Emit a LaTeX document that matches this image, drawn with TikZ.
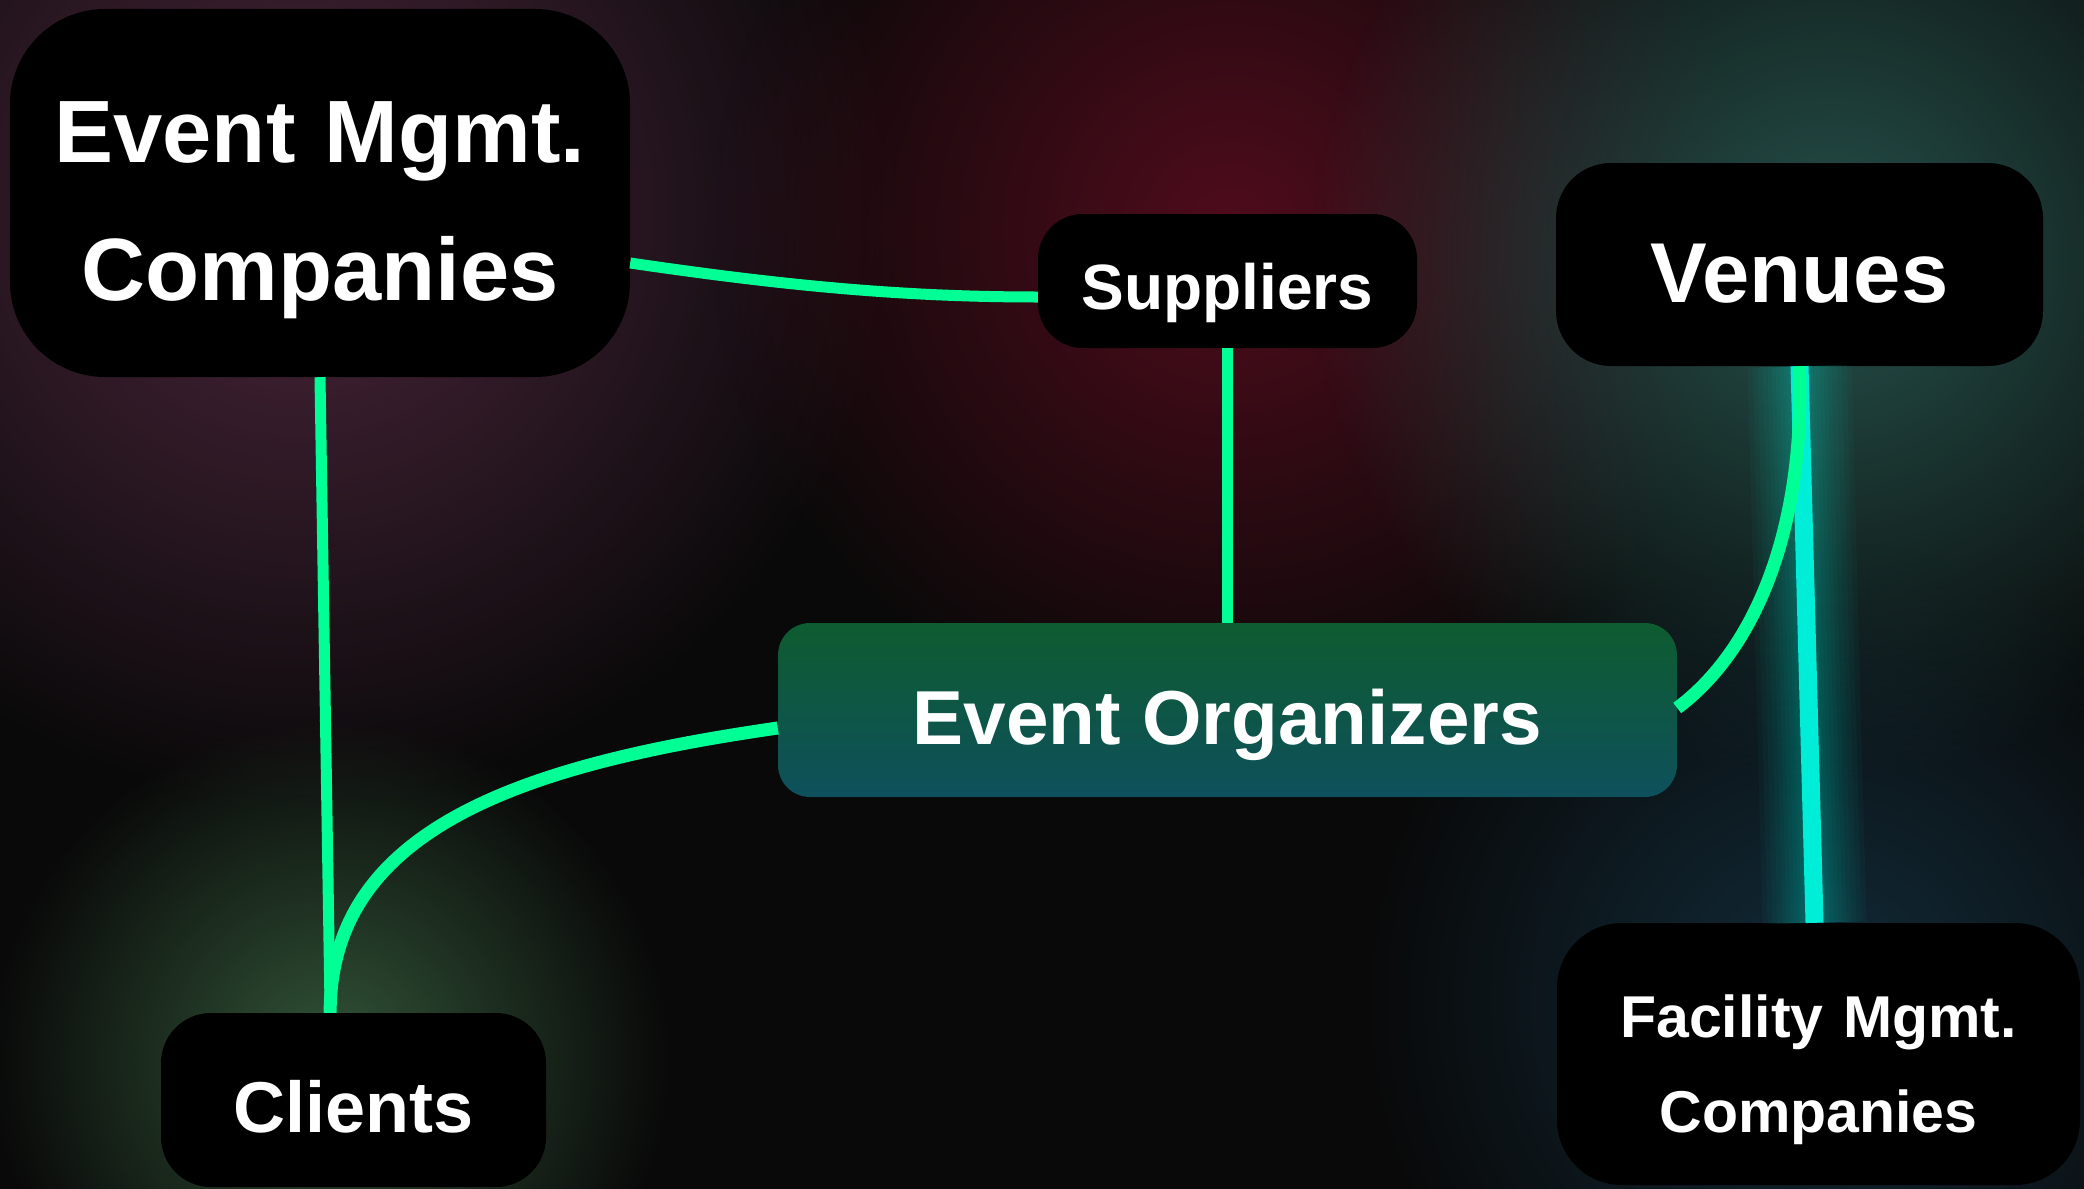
\documentclass[tikz,border=0pt]{standalone}
\usepackage{fontspec}
\setmainfont{Liberation Sans}
\usetikzlibrary{fadings}

\definecolor{bgdark}{RGB}{9,9,9}
\definecolor{linkgreen}{RGB}{0,255,148}
\definecolor{linkcyan}{RGB}{0,238,216}
\definecolor{orgtop}{RGB}{14,92,48}
\definecolor{orgbottom}{RGB}{14,80,92}
\definecolor{glowplum}{RGB}{76,38,60}
\definecolor{glowred}{RGB}{80,12,28}
\definecolor{glowteal}{RGB}{38,82,76}
\definecolor{glowmoss}{RGB}{50,84,56}
\definecolor{glowblue}{RGB}{18,44,58}

\tikzfading[name=glowfade, inner color=transparent!0, outer color=transparent!100]

\begin{document}
\begin{tikzpicture}[x=1pt,y=-1pt,
    box/.style={fill=black, text=white, inner sep=0pt},
    link/.style={linkgreen, line width=11pt},
    curvelink/.style={linkgreen, line width=13pt}
  ]
    \useasboundingbox (0,0) rectangle (2084,1188);
    \fill[bgdark] (-4,-4) rectangle (2088,1192);

    % soft coloured glows in the background
    \fill[glowplum, path fading=glowfade] (300,210) circle (600pt);
    \fill[glowred,  path fading=glowfade] (1230,230) circle (520pt);
    \fill[glowteal, path fading=glowfade] (1830,260) circle (520pt);
    \fill[glowmoss, path fading=glowfade] (330,1060) circle (340pt);
    \fill[glowblue, path fading=glowfade] (1820,1000) circle (460pt);

    % boxes
    \node[box, minimum width=620pt, minimum height=368pt, rounded corners=95pt,
          text width=600pt, align=center, text height=0pt, text depth=62pt,
          font=\fontsize{88.5pt}{138pt}\selectfont\bfseries]
          (emc) at (320,193) {Event Mgmt.\\Companies};
    \node[box, minimum width=379pt, minimum height=134pt, rounded corners=45pt,
          text height=56pt, text depth=0pt,
          font=\fontsize{64pt}{77pt}\selectfont\bfseries]
          (sup) at (1227.5,281) {Suppliers};
    \node[box, minimum width=487pt, minimum height=203pt, rounded corners=55pt,
          text height=75pt, text depth=0pt,
          font=\fontsize{85pt}{100pt}\selectfont\bfseries]
          (ven) at (1799.5,264.5) {Venues};
    \node[box, minimum width=899pt, minimum height=174pt, rounded corners=32pt,
          top color=orgtop, bottom color=orgbottom,
          text height=68pt, text depth=0pt,
          font=\fontsize{76.5pt}{90pt}\selectfont\bfseries]
          (eo) at (1227.5,710) {Event Organizers};
    \node[box, minimum width=385pt, minimum height=174pt, rounded corners=50pt,
          text height=64pt, text depth=0pt,
          font=\fontsize{72pt}{86pt}\selectfont\bfseries]
          (cli) at (353.5,1100) {Clients};
    \node[box, minimum width=523pt, minimum height=262pt, rounded corners=65pt,
          text width=500pt, align=center, text height=0pt, text depth=34pt,
          font=\fontsize{59pt}{95pt}\selectfont\bfseries]
          (fac) at (1818.5,1054) {Facility Mgmt.\\Companies};

    % glowing link Venues -- Facility Mgmt.
    \foreach \w in {104,94,84,74,64,56,48,40,32,26} {
      \draw[linkcyan, line width=\w pt, opacity=0.035] (ven.south) -- ([xshift=-4pt]fac.north);
    }
    \draw[linkcyan, line width=18pt] (ven.south) -- ([xshift=-4pt]fac.north);

    % links
    \draw[link] (emc.south) -- (cli.105);
    \draw[link] ([yshift=-70pt]emc.east) .. controls (780,285) and (900,297) .. ([yshift=-16pt]sup.west);
    \draw[link] (sup.south) -- (eo.north);
    \draw[curvelink] ([yshift=-18pt]eo.west) .. controls (520,765) and (330,830) .. (cli.105);
    \draw[curvelink] ([yshift=2pt]eo.east) .. controls (1755,650) and (1805,530) .. (ven.south);
\end{tikzpicture}
\end{document}
